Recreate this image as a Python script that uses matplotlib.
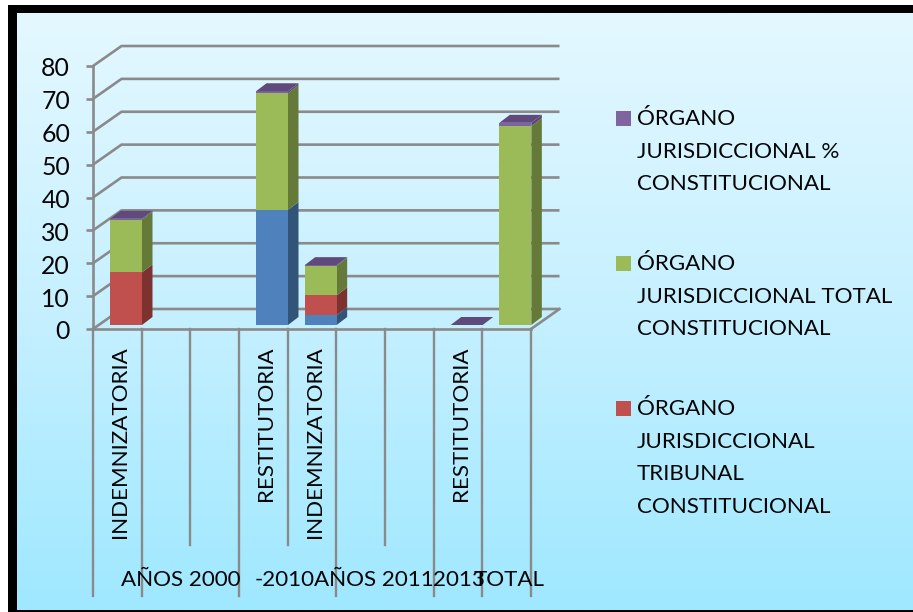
import numpy as np
import matplotlib
matplotlib.use("Agg")
import matplotlib.pyplot as plt
from matplotlib.patches import Polygon, Rectangle
from matplotlib.colors import LinearSegmentedColormap
from matplotlib.transforms import ScaledTranslation

plt.rcParams['font.family'] = ['Lato', 'DejaVu Sans']

categories = ["INDEMNIZATORIA", "", "", "RESTITUTORIA", "INDEMNIZATORIA", "", "", "RESTITUTORIA", ""]
blue_vals = [0, 0, 0, 35, 3, 0, 0, 0, 0]
red_vals = [16, 0, 0, 0, 6, 0, 0, 0, 0]
green_vals = [16, 0, 0, 35.5, 9, 0, 0, 0, 60.5]
purple_vals = [0.3, 0, 0, 0.6, 0.2, 0, 0, 0, 1.0]
has_bar = [True, False, False, True, True, False, False, True, True]
y_ticks = [0, 10, 20, 30, 40, 50, 60, 70, 80]

legend_entries = [
    ("ÓRGANO\nJURISDICCIONAL %\nCONSTITUCIONAL", "#8064A2"),
    ("ÓRGANO\nJURISDICCIONAL TOTAL\nCONSTITUCIONAL", "#9BBB59"),
    ("ÓRGANO\nJURISDICCIONAL\nTRIBUNAL\nCONSTITUCIONAL", "#C0504D"),
]
group_labels = [("AÑOS 2000", 181), ("-2010", 285), ("AÑOS 2011", 374), ("2013", 459), ("TOTAL", 509)]

W, H = 913, 612
GRAY = "#8A8A8A"
TXT = "#050505"
FS = 16.1
LW = 1.9

fig = plt.figure(figsize=(W / 100, H / 100), dpi=100, facecolor="white")

bg = fig.add_axes([0, 0, 1, 1])
bg.axis("off")
cmap = LinearSegmentedColormap.from_list("sky", ["#E4F8FF", "#C6F0FF", "#9FE8FF"])
bg.imshow(np.linspace(0, 1, 256)[:, None], cmap=cmap, extent=(17, W, 610, 13), aspect="auto", zorder=2)
for rect in [(8, 5, W, 8), (8, 5, 8.5, H - 5), (8, 610, W, 2)]:
    bg.add_patch(Rectangle(rect[:2], rect[2], rect[3], fc="black", ec="none", zorder=3))
bg.set_xlim(0, W)
bg.set_ylim(H, 0)

L, R, T, B = 93, 531, 66, 329
ax = fig.add_axes([L / W, 1 - B / H, (R - L) / W, (B - T) / H], facecolor="none")
n = len(categories)
ax.set_xlim(0, n)
ax.set_ylim(0, 80)
px_x = n / (R - L)
px_y = 80 / (B - T)

wall_dx, wall_dy = 28.5 * px_x, 20 * px_y
bar_dx, bar_dy = 10.5 * px_x, 8 * px_y
bar_left, bar_w = 17 * px_x, 32 * px_x
lift = 4 * px_y

for s in ["top", "right"]:
    ax.spines[s].set_visible(False)
for s in ["left", "bottom"]:
    ax.spines[s].set_color(GRAY)
    ax.spines[s].set_linewidth(LW)

ax.set_yticks(y_ticks)
ax.tick_params(axis="y", length=5, width=LW, color=GRAY, labelsize=17.8, labelcolor=TXT, pad=11.5)
shift = ScaledTranslation(0, -0.7 / 72, fig.dpi_scale_trans)
for t in ax.get_yticklabels():
    t.set_transform(t.get_transform() + shift)

ax.set_xticks(np.arange(n) + 0.5 + 3 * px_x)
ax.set_xticklabels(categories, rotation=90, fontsize=FS, color=TXT, va="top", ha="center")
ax.tick_params(axis="x", length=0, pad=12.5)

for v in y_ticks:
    ax.plot([0, wall_dx, n + wall_dx], [v, v + wall_dy, v + wall_dy],
            color=GRAY, lw=LW, clip_on=False, zorder=1, solid_capstyle="butt")
ax.plot([n, n + wall_dx], [0, wall_dy], color=GRAY, lw=LW, clip_on=False, zorder=1)

long_ticks = [0, 1, 3, 5, 7, 8, 9]
short_ticks = [2, 4, 6]
for i in long_ticks:
    ax.plot([i, i], [0, -(596 - B) * px_y], color=GRAY, lw=1.7, clip_on=False, zorder=1)
for i in short_ticks:
    ax.plot([i, i], [0, -(545 - B) * px_y], color=GRAY, lw=1.7, clip_on=False, zorder=1)


def box(x, bottom, height, face, side):
    ax.bar(x + bar_left, height, bar_w, bottom=bottom + lift, align="edge", color=face,
           linewidth=0, zorder=4, clip_on=False)
    xr = x + bar_left + bar_w
    y0, y1 = bottom + lift, bottom + lift + height
    ax.add_patch(Polygon([(xr, y0), (xr + bar_dx, y0 + bar_dy), (xr + bar_dx, y1 + bar_dy), (xr, y1)],
                         fc=side, ec="none", zorder=3, clip_on=False))


def top(x, level, face):
    xl = x + bar_left
    y = level + lift
    ax.add_patch(Polygon([(xl, y), (xl + bar_w, y), (xl + bar_w + bar_dx, y + bar_dy), (xl + bar_dx, y + bar_dy)],
                         fc=face, ec="none", zorder=5, clip_on=False))


series = [(blue_vals, "#4F81BD", "#335479"),
          (red_vals, "#C0504D", "#7D3230"),
          (green_vals, "#9BBB59", "#657A39"),
          (purple_vals, "#7F63A1", "#5C4777")]
for i in range(n):
    if not has_bar[i]:
        continue
    base = 0.0
    for vals, face, side in series:
        if vals[i] > 0:
            box(i, base, vals[i], face, side)
            base += vals[i]
    top(i, base, "#604A7B")

for label, px in group_labels:
    ax.text((px - L) * px_x, -(580.5 - B) * px_y, label, fontsize=FS, color=TXT, ha="center", va="center",
            clip_on=False, zorder=6)

line_gap = 32.6
tops = [118, 263, 408]
for (label, color), y0 in zip(legend_entries, tops):
    bg.add_patch(Rectangle((616, y0 - 7.5), 15, 15, fc=color, ec="none", zorder=4))
    for j, line in enumerate(label.split("\n")):
        bg.text(637, y0 + 1 + j * line_gap, line, fontsize=FS, color=TXT, ha="left", va="center", zorder=5)

fig.savefig("out.png", dpi=100)
